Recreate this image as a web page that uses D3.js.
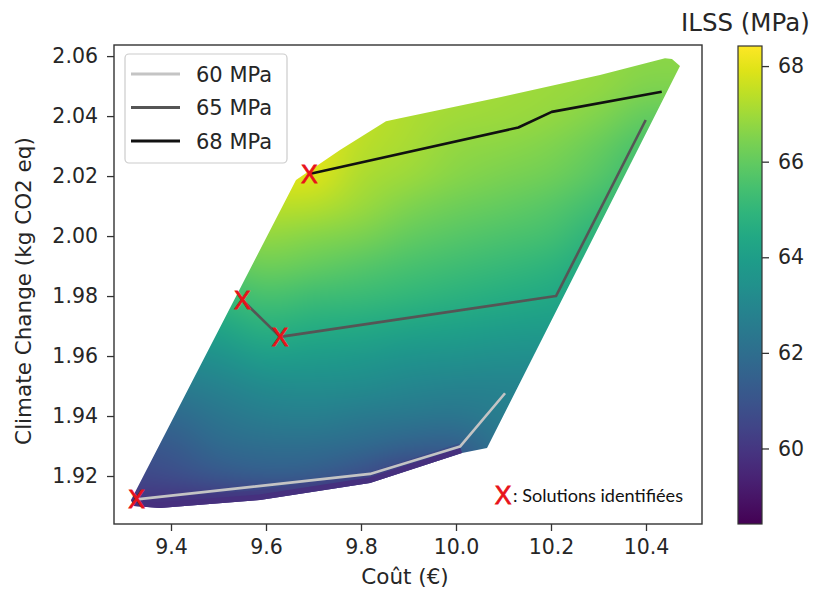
<!DOCTYPE html>
<html><head><meta charset="utf-8">
<script src="https://cdn.jsdelivr.net/npm/d3@7"></script>
<style>body{margin:0;background:#fff}svg{display:block}</style>
</head><body><div id="chart"></div>
<script>
const W = 819, H = 589;

// ---- data ----
const gridX = [9.3, 9.4, 9.5, 9.6, 9.7, 9.8, 9.9, 10.0, 10.1, 10.2, 10.3, 10.4, 10.5];
const gridY = [2.06, 2.05, 2.04, 2.03, 2.02, 2.01, 2.00, 1.99, 1.98, 1.97, 1.96, 1.95, 1.94, 1.93, 1.92, 1.91, 1.90];
const ilssGrid = [
  [68.1, 68.1, 68.1, 68.1, 68.0, 67.5, 67.2, 67.1, 67.0, 66.9, 66.8, 66.7, 66.7],
  [68.1, 68.1, 68.1, 68.1, 68.0, 67.5, 67.2, 67.1, 67.0, 66.9, 66.8, 66.5, 66.5],
  [68.1, 68.1, 68.1, 68.1, 68.0, 67.5, 67.2, 67.0, 66.9, 66.8, 66.5, 66.0, 66.0],
  [68.1, 68.1, 68.1, 68.1, 68.0, 67.4, 67.1, 66.8, 66.7, 66.5, 66.1, 65.5, 65.5],
  [67.9, 67.9, 67.9, 67.9, 67.9, 67.2, 66.9, 66.6, 66.4, 66.2, 65.8, 65.1, 65.0],
  [67.3, 67.3, 67.3, 67.4, 67.3, 66.9, 66.5, 66.2, 66.0, 65.8, 65.3, 64.8, 65.0],
  [66.6, 66.6, 66.6, 66.8, 66.6, 66.4, 66.0, 65.8, 65.6, 65.4, 64.8, 64.8, 65.0],
  [65.9, 65.9, 65.9, 66.2, 66.0, 65.8, 65.5, 65.3, 65.1, 64.9, 64.4, 64.8, 65.0],
  [65.1, 65.1, 65.1, 65.5, 65.3, 65.2, 65.0, 64.8, 64.6, 64.4, 64.0, 64.8, 65.0],
  [64.2, 64.2, 64.3, 64.8, 64.6, 64.5, 64.3, 64.2, 64.0, 63.9, 64.0, 64.8, 65.0],
  [63.2, 63.2, 63.5, 64.0, 63.9, 63.8, 63.6, 63.5, 63.4, 63.4, 64.0, 64.8, 65.0],
  [62.5, 62.5, 62.8, 63.2, 63.3, 63.2, 63.0, 62.9, 62.9, 63.0, 64.0, 64.8, 65.0],
  [61.8, 61.8, 62.3, 62.6, 62.7, 62.5, 62.4, 62.3, 62.6, 63.0, 64.0, 64.8, 65.0],
  [61.0, 61.2, 61.8, 62.0, 62.0, 61.8, 61.5, 61.4, 62.3, 63.0, 64.0, 64.8, 65.0],
  [60.5, 60.7, 61.1, 61.3, 61.2, 60.8, 60.2, 60.4, 62.0, 63.0, 64.0, 64.8, 65.0],
  [59.9, 59.8, 59.8, 59.8, 59.7, 59.6, 59.6, 59.9, 61.8, 63.0, 64.0, 64.8, 65.0],
  [59.3, 59.3, 59.3, 59.3, 59.3, 59.3, 59.3, 59.8, 61.5, 63.0, 64.0, 64.8, 65.0]
];

// outline of the scatter cloud (Coût, Climate Change)
const regionX = [9.3158, 9.3221, 9.3768, 9.5874, 9.819, 10.0126, 10.0653, 10.4716, 10.4547, 10.44, 10.3032, 10.0926, 9.8821, 9.8526, 9.7558, 9.6632];
const regionY = [1.912, 1.910, 1.9093, 1.912, 1.9177, 1.9277, 1.9293, 2.0567, 2.059, 2.0593, 2.0537, 2.0463, 2.0393, 2.0383, 2.0287, 2.0187];

// dark lowest-ILSS band along the lower edge of the cloud
const bottomBandX = [9.3158, 9.3221, 9.3768, 9.5874, 9.819, 10.0126];
const bottomBandY = [1.912, 1.910, 1.9093, 1.912, 1.9177, 1.9277];
const bottomBandILSS = 59.8;

const frontierLabels = ["60 MPa", "65 MPa", "68 MPa"];
const frontier60X = [9.3278, 9.819, 10.0084, 10.1032];
const frontier60Y = [1.9122, 1.9207, 1.9298, 1.9476];
const frontier65X = [9.5501, 9.6295, 10.2105, 10.3994];
const frontier65Y = [1.9787, 1.9664, 1.98, 2.0387];
const frontier68X = [9.6912, 10.1312, 10.2015, 10.4331];
const frontier68Y = [2.0207, 2.0362, 2.0414, 2.0481];

const solutionX = [9.3278, 9.5501, 9.6295, 9.6912];
const solutionY = [1.9122, 1.9787, 1.9664, 2.0207];

const xTicks = [9.4, 9.6, 9.8, 10.0, 10.2, 10.4];
const yTicks = [1.92, 1.94, 1.96, 1.98, 2.00, 2.02, 2.04, 2.06];
const cbTicks = [60, 62, 64, 66, 68];
const ilssDomain = [58.42, 68.42];

// ---- scales ----
const x = d3.scaleLinear().domain([9.28, 10.5179]).range([114, 702]);
const y = d3.scaleLinear().domain([1.904, 2.0637]).range([524, 45]);
const color = d3.scaleSequential(d3.interpolateViridis).domain(ilssDomain);
const cb = d3.scaleLinear().domain(ilssDomain).range([524, 46]);

const svg = d3.select('#chart').append('svg').attr('width', W).attr('height', H);
svg.append('rect').attr('width', W).attr('height', H).attr('fill', '#fff');

// ---- colour field ----
const small = document.createElement('canvas');
small.width = gridX.length; small.height = gridY.length;
const sctx = small.getContext('2d');
const img = sctx.createImageData(small.width, small.height);
ilssGrid.forEach((row, r) => row.forEach((v, c) => {
  const k = (r * small.width + c) * 4, col = d3.rgb(color(v));
  img.data[k] = col.r; img.data[k + 1] = col.g; img.data[k + 2] = col.b; img.data[k + 3] = 255;
}));
sctx.putImageData(img, 0, 0);

const big = document.createElement('canvas');
big.width = W; big.height = H;
const ctx = big.getContext('2d');
const region = regionX.map((v, i) => [v, regionY[i]]);
const pathLine = d3.line().x(d => x(d[0])).y(d => y(d[1]));
ctx.save();
ctx.beginPath(); pathLine.context(ctx)(region); ctx.closePath(); ctx.clip();
ctx.imageSmoothingEnabled = true; ctx.imageSmoothingQuality = 'high';
const hx = (gridX[1] - gridX[0]) / 2, hy = (gridY[0] - gridY[1]) / 2;
const ix0 = x(gridX[0] - hx), ix1 = x(gridX[gridX.length - 1] + hx);
const iy0 = y(gridY[0] + hy), iy1 = y(gridY[gridY.length - 1] - hy);
ctx.drawImage(small, ix0, iy0, ix1 - ix0, iy1 - iy0);
const band = bottomBandX.map((v, i) => [v, bottomBandY[i]]);
ctx.strokeStyle = color(bottomBandILSS); ctx.lineJoin = 'round';
ctx.globalAlpha = 0.3; ctx.lineWidth = 20; ctx.beginPath(); pathLine.context(ctx)(band); ctx.stroke();
ctx.globalAlpha = 1; ctx.lineWidth = 11; ctx.beginPath(); pathLine.context(ctx)(band); ctx.stroke();
ctx.restore();
svg.append('image').attr('href', big.toDataURL()).attr('x', 0).attr('y', 0).attr('width', W).attr('height', H);

// ---- frontier lines ----
const frontiers = [
  {xs: frontier60X, ys: frontier60Y, stroke: '#c4c4c4'},
  {xs: frontier65X, ys: frontier65Y, stroke: '#555555'},
  {xs: frontier68X, ys: frontier68Y, stroke: '#111111'}
];
const svgLine = d3.line().x(d => x(d[0])).y(d => y(d[1]));
frontiers.forEach(f => {
  svg.append('path').attr('d', svgLine(f.xs.map((v, i) => [v, f.ys[i]])))
    .attr('fill', 'none').attr('stroke', f.stroke).attr('stroke-width', 2.6)
    .attr('stroke-linejoin', 'round').attr('stroke-linecap', 'butt');
});

// ---- solution markers ----
const markFont = '"Liberation Sans", Arial, sans-serif';
svg.selectAll('text.sol').data(solutionX.map((v, i) => [v, solutionY[i]])).join('text')
  .attr('class', 'sol').attr('x', d => x(d[0])).attr('y', d => y(d[1])).attr('dy', '0.36em')
  .attr('text-anchor', 'middle').attr('font-family', markFont)
  .attr('font-size', 25).attr('fill', '#e8121a').attr('stroke', '#e8121a').attr('stroke-width', 0.8).text('X');

// ---- frame ----
svg.append('rect').attr('x', 114).attr('y', 45).attr('width', 588).attr('height', 479)
  .attr('fill', 'none').attr('stroke', '#333').attr('stroke-width', 1.4);

const tickFont = '"DejaVu Sans", sans-serif';
const gx = svg.append('g').attr('transform', 'translate(0,524)')
  .call(d3.axisBottom(x).tickValues(xTicks).tickFormat(d3.format('.1f')).tickSize(7).tickPadding(8));
const gy = svg.append('g').attr('transform', 'translate(114,0)')
  .call(d3.axisLeft(y).tickValues(yTicks).tickFormat(d3.format('.2f')).tickSize(7).tickPadding(9));
[gx, gy].forEach(g => {
  g.select('.domain').remove();
  g.selectAll('line').attr('stroke', '#333').attr('stroke-width', 1.3);
  g.selectAll('text').attr('font-family', tickFont).attr('font-size', 20.5).attr('fill', '#262626');
});

svg.append('text').attr('x', 405).attr('y', 584).attr('text-anchor', 'middle')
  .attr('font-family', tickFont).attr('font-size', 21.5).attr('fill', '#262626').text('Coût (€)');
svg.append('text').attr('transform', 'translate(31,291) rotate(-90)').attr('text-anchor', 'middle')
  .attr('font-family', tickFont).attr('font-size', 21.5).attr('fill', '#262626').text('Climate Change (kg CO2 eq)');

// ---- legend ----
const lg = svg.append('g');
lg.append('rect').attr('x', 125).attr('y', 54).attr('width', 162).attr('height', 109).attr('rx', 4)
  .attr('fill', '#fff').attr('fill-opacity', 0.85).attr('stroke', '#cccccc').attr('stroke-width', 1.2);
frontierLabels.forEach((lab, i) => {
  const ly = 74 + i * 33.5;
  lg.append('line').attr('x1', 131).attr('x2', 180).attr('y1', ly).attr('y2', ly)
    .attr('stroke', frontiers[i].stroke).attr('stroke-width', 3);
  lg.append('text').attr('x', 196).attr('y', ly + 7.5).attr('font-family', tickFont)
    .attr('font-size', 21).attr('fill', '#262626').text(lab);
});

// ---- annotation ----
svg.append('text').attr('x', 503).attr('y', 495).attr('dy', '0.36em').attr('text-anchor', 'middle')
  .attr('font-family', markFont).attr('font-size', 25).attr('fill', '#e8121a')
  .attr('stroke', '#e8121a').attr('stroke-width', 0.8).text('X');
svg.append('text').attr('x', 513).attr('y', 501.5).attr('font-family', 'Lato, "Liberation Sans", sans-serif')
  .attr('font-size', 17).attr('textLength', 170).attr('lengthAdjust', 'spacingAndGlyphs')
  .attr('fill', '#111').text(': Solutions identifiées');

// ---- colorbar ----
const defs = svg.append('defs');
const grad = defs.append('linearGradient').attr('id', 'cbgrad').attr('x1', 0).attr('x2', 0).attr('y1', 1).attr('y2', 0);
d3.range(0, 1.0001, 0.05).forEach(t => {
  grad.append('stop').attr('offset', t).attr('stop-color', color(ilssDomain[0] + t * (ilssDomain[1] - ilssDomain[0])));
});
svg.append('rect').attr('x', 738).attr('y', 46).attr('width', 24).attr('height', 478)
  .attr('fill', 'url(#cbgrad)').attr('stroke', '#333').attr('stroke-width', 1.2);
const gc = svg.append('g').attr('transform', 'translate(762,0)')
  .call(d3.axisRight(cb).tickValues(cbTicks).tickFormat(d3.format('d')).tickSize(7).tickPadding(9));
gc.select('.domain').remove();
gc.selectAll('line').attr('stroke', '#333').attr('stroke-width', 1.3);
gc.selectAll('text').attr('font-family', tickFont).attr('font-size', 20.5).attr('fill', '#262626');

svg.append('text').attr('x', 681).attr('y', 30.5).attr('font-family', tickFont).attr('font-size', 24.5)
  .attr('fill', '#262626').text('ILSS (MPa)');
</script></body></html>
